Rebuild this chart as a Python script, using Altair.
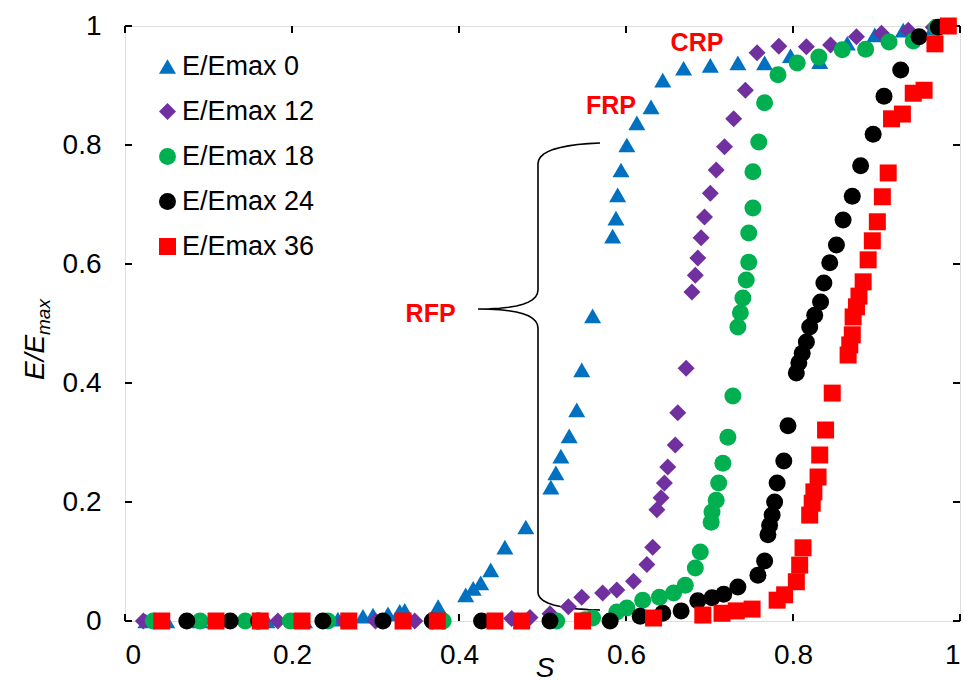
import altair as alt
import pandas as pd

FONT = "Liberation Sans"
W, H = 835, 595

# ---- series -------------------------------------------------------------
series_names = ["E/Emax 0", "E/Emax 12", "E/Emax 18", "E/Emax 24", "E/Emax 36"]
series_colors = ["#0070C0", "#7030A0", "#00B050", "#000000", "#FF0000"]
series_shapes = ["triangle-up", "diamond", "circle", "circle", "square"]

s_0 = [0.025, 0.05, 0.09, 0.17, 0.215, 0.255, 0.285, 0.297, 0.315, 0.329, 0.335,
       0.375, 0.408, 0.417, 0.426, 0.438, 0.455, 0.480, 0.510, 0.516, 0.522, 0.532,
       0.541, 0.547, 0.560, 0.584, 0.588, 0.590, 0.594, 0.601, 0.613, 0.630, 0.644,
       0.669, 0.701, 0.734, 0.766, 0.797, 0.832, 0.865, 0.898, 0.932, 0.968]
e_0 = [0.0, 0.0, 0.0, 0.0, 0.0, 0.003, 0.008, 0.010, 0.012, 0.016, 0.018,
       0.024, 0.044, 0.055, 0.064, 0.086, 0.124, 0.158, 0.225, 0.249, 0.277, 0.311,
       0.355, 0.422, 0.513, 0.647, 0.677, 0.716, 0.758, 0.800, 0.837, 0.864, 0.909,
       0.929, 0.934, 0.938, 0.938, 0.950, 0.940, 0.971, 0.985, 0.993, 0.997]

s_12 = [0.022, 0.183, 0.262, 0.300, 0.347, 0.437, 0.463, 0.485, 0.509, 0.531, 0.547,
        0.572, 0.589, 0.609, 0.625, 0.632, 0.637, 0.642, 0.646, 0.650, 0.659, 0.662,
        0.672, 0.679, 0.683, 0.686, 0.690, 0.694, 0.701, 0.708, 0.718, 0.729, 0.743,
        0.757, 0.783, 0.816, 0.845, 0.876, 0.906, 0.938, 0.968]
e_12 = [0.0, 0.0, 0.0, 0.0, 0.0, 0.0, 0.004, 0.006, 0.012, 0.024, 0.040,
        0.047, 0.052, 0.067, 0.095, 0.124, 0.187, 0.207, 0.232, 0.259, 0.296, 0.350,
        0.425, 0.553, 0.581, 0.610, 0.644, 0.679, 0.719, 0.758, 0.797, 0.844, 0.892,
        0.955, 0.966, 0.965, 0.968, 0.982, 0.988, 0.993, 0.998]

s_18 = [0.034, 0.090, 0.144, 0.198, 0.243, 0.381, 0.517, 0.551, 0.560, 0.589, 0.601,
        0.620, 0.640, 0.657, 0.671, 0.683, 0.689, 0.702, 0.703, 0.708, 0.711, 0.716,
        0.722, 0.728, 0.734, 0.737, 0.740, 0.744, 0.747, 0.747, 0.752, 0.752, 0.759,
        0.766, 0.782, 0.805, 0.831, 0.859, 0.887, 0.915, 0.944, 0.972]
e_18 = [0.0, 0.0, 0.0, 0.0, 0.0, 0.0, 0.0, 0.002, 0.005, 0.015, 0.022,
        0.035, 0.040, 0.047, 0.060, 0.089, 0.116, 0.166, 0.183, 0.203, 0.232, 0.265,
        0.309, 0.378, 0.494, 0.518, 0.543, 0.573, 0.603, 0.652, 0.694, 0.755, 0.805,
        0.871, 0.918, 0.938, 0.948, 0.960, 0.961, 0.973, 0.975, 0.998]

s_24 = [0.074, 0.126, 0.160, 0.237, 0.309, 0.368, 0.427, 0.509, 0.581, 0.617, 0.644,
        0.666, 0.686, 0.703, 0.717, 0.734, 0.758, 0.766, 0.770, 0.772, 0.775, 0.778,
        0.781, 0.789, 0.794, 0.804, 0.807, 0.811, 0.816, 0.820, 0.826, 0.833, 0.837,
        0.844, 0.852, 0.860, 0.871, 0.881, 0.896, 0.909, 0.929, 0.951, 0.974]
e_24 = [0.0, 0.0, 0.0, 0.0, 0.0, 0.0, 0.0, 0.0, 0.0, 0.008, 0.013,
        0.017, 0.034, 0.039, 0.045, 0.057, 0.077, 0.101, 0.145, 0.161, 0.178, 0.200,
        0.232, 0.269, 0.328, 0.417, 0.434, 0.450, 0.469, 0.494, 0.514, 0.536, 0.568,
        0.602, 0.632, 0.674, 0.714, 0.765, 0.818, 0.882, 0.926, 0.982, 0.998]

s_36 = [0.044, 0.109, 0.162, 0.212, 0.268, 0.333, 0.374, 0.443, 0.475, 0.548, 0.633,
        0.692, 0.715, 0.732, 0.751, 0.781, 0.790, 0.804, 0.808, 0.812, 0.820, 0.823,
        0.825, 0.830, 0.832, 0.839, 0.847, 0.866, 0.868, 0.871, 0.872, 0.876, 0.879,
        0.884, 0.890, 0.895, 0.901, 0.907, 0.914, 0.918, 0.931, 0.944, 0.957, 0.970,
        0.986]
e_36 = [0.0, 0.0, 0.0, 0.0, 0.0, 0.0, 0.0, 0.0, 0.0, 0.0, 0.005,
        0.010, 0.013, 0.017, 0.020, 0.035, 0.044, 0.066, 0.094, 0.123, 0.178, 0.198,
        0.217, 0.242, 0.279, 0.321, 0.383, 0.447, 0.464, 0.481, 0.511, 0.528, 0.546,
        0.570, 0.607, 0.639, 0.671, 0.713, 0.753, 0.844, 0.852, 0.887, 0.892, 0.970,
        1.0]

series_s = [s_0, s_12, s_18, s_24, s_36]
series_e = [e_0, e_12, e_18, e_24, e_36]

x_ticks = [0, 0.2, 0.4, 0.6, 0.8, 1.0]
y_ticks = [0, 0.2, 0.4, 0.6, 0.8, 1.0]

# region labels and the brace that spans the RFP stage
region_labels = ["CRP", "FRP", "RFP"]
region_s = [0.685, 0.582, 0.366]
region_e = [0.971, 0.866, 0.516]

brace_stem, brace_tip, brace_end = 0.4946, 0.4228, 0.5689
brace_top, brace_mid, brace_bot = 0.8034, 0.5244, 0.0185

# ---- tables ---------------------------------------------------------------
rows = []
for name, ss, ee in zip(series_names, series_s, series_e):
    for s, e in zip(ss, ee):
        rows.append({"series": name, "S": s, "E": e})
points_df = pd.DataFrame(rows)


def quad(p0, p1, p2, n=10):
    out = []
    for k in range(n + 1):
        t = k / n
        a, b, c = (1 - t) ** 2, 2 * (1 - t) * t, t ** 2
        out.append((a * p0[0] + b * p1[0] + c * p2[0],
                    a * p0[1] + b * p1[1] + c * p2[1]))
    return out


def brace(xs, xt, xe, yt, ym, yb, hook_top=0.035, hook_bot=0.03, arm=0.032):
    pts = []
    pts += quad((xe, yt), (xs, yt - 0.004), (xs, yt - hook_top))
    pts += quad((xs, ym + arm), (xs, ym), (xt, ym))
    pts += quad((xt, ym), (xs, ym), (xs, ym - arm))
    pts += quad((xs, yb + hook_bot), (xs, yb + 0.002), (xe, yb))
    return pd.DataFrame({"S": [p[0] for p in pts], "E": [p[1] for p in pts],
                         "i": list(range(len(pts)))})


brace_df = brace(brace_stem, brace_tip, brace_end, brace_top, brace_mid, brace_bot)
labels_df = pd.DataFrame({"label": region_labels, "S": region_s, "E": region_e})

# ---- encodings ------------------------------------------------------------
x_axis = alt.Axis(values=x_ticks, format="~g", grid=False, domain=False, ticks=False,
                  labelFont=FONT, labelFontSize=28, labelColor="black",
                  labelPadding=20, title=None)
y_axis = alt.Axis(values=y_ticks, format="~g", grid=False, domain=False, ticks=False,
                  labelFont=FONT, labelFontSize=28, labelColor="black",
                  labelPadding=24, title=None)
x_scale = alt.Scale(domain=[0, 1], nice=False, zero=False)
y_scale = alt.Scale(domain=[0, 1], nice=False, zero=False)


def X(field="S"):
    return alt.X(f"{field}:Q", scale=x_scale, axis=x_axis)


def Y(field="E"):
    return alt.Y(f"{field}:Q", scale=y_scale, axis=y_axis)


legend = alt.Legend(title=None, orient="none", legendX=29, legendY=27,
                    labelFont=FONT, labelFontSize=27, labelColor="black",
                    symbolSize=289, symbolStrokeWidth=0, rowPadding=17,
                    labelOffset=1, padding=0)

points = alt.Chart(points_df).mark_point(filled=True, opacity=1, size=289).encode(
    x=X(), y=Y(),
    color=alt.Color("series:N", scale=alt.Scale(domain=series_names, range=series_colors),
                    legend=legend),
    shape=alt.Shape("series:N", scale=alt.Scale(domain=series_names, range=series_shapes),
                    legend=legend),
)

brace_line = alt.Chart(brace_df).mark_line(color="black", strokeWidth=1.6).encode(
    x=X(), y=Y(), order="i:Q")

region_text = alt.Chart(labels_df).mark_text(
    font=FONT, fontSize=25, fontWeight="bold", color="#FF0000"
).encode(x=X(), y=Y(), text="label:N")

# inward ticks on all four sides of the frame
tick_style = dict(color="black", strokeWidth=2)
xt_df = pd.DataFrame({"S": x_ticks})
yt_df = pd.DataFrame({"E": y_ticks})
ticks_bottom = alt.Chart(xt_df).mark_rule(**tick_style).encode(
    x=X(), y=alt.value(H), y2=alt.value(H - 7))
ticks_top = alt.Chart(xt_df).mark_rule(**tick_style).encode(
    x=X(), y=alt.value(0), y2=alt.value(7))
ticks_left = alt.Chart(yt_df).mark_rule(**tick_style).encode(
    y=Y(), x=alt.value(0), x2=alt.value(7))
ticks_right = alt.Chart(yt_df).mark_rule(**tick_style).encode(
    y=Y(), x=alt.value(W), x2=alt.value(W - 7))

# axis titles: italic S, and E/E with a "max" subscript
title_df = pd.DataFrame({"t": ["S"]})
x_title = alt.Chart(title_df).mark_text(
    font=FONT, fontSize=28, fontStyle="italic", baseline="top", align="center"
).encode(x=alt.value(420), y=alt.value(629), text="t:N")

y_main = alt.Chart(pd.DataFrame({"t": ["E/E"]})).mark_text(
    font=FONT, fontSize=28, fontStyle="italic", angle=270, align="left",
    baseline="alphabetic"
).encode(x=alt.value(-81), y=alt.value(354), text="t:N")
y_sub = alt.Chart(pd.DataFrame({"t": ["max"]})).mark_text(
    font=FONT, fontSize=19, fontStyle="italic", angle=270, align="left",
    baseline="alphabetic"
).encode(x=alt.value(-75), y=alt.value(309), text="t:N")

chart = alt.layer(
    ticks_bottom, ticks_top, ticks_left, ticks_right,
    brace_line, points, region_text, x_title, y_main, y_sub
).properties(
    width=W, height=H,
    autosize=alt.AutoSizeParams(type="none"),
    padding={"left": 125, "top": 26, "right": 4, "bottom": 59},
).configure_view(stroke="black", strokeWidth=2.5).configure(background="white")

chart.save("out.html", embed_options={"renderer": "svg", "actions": False})
